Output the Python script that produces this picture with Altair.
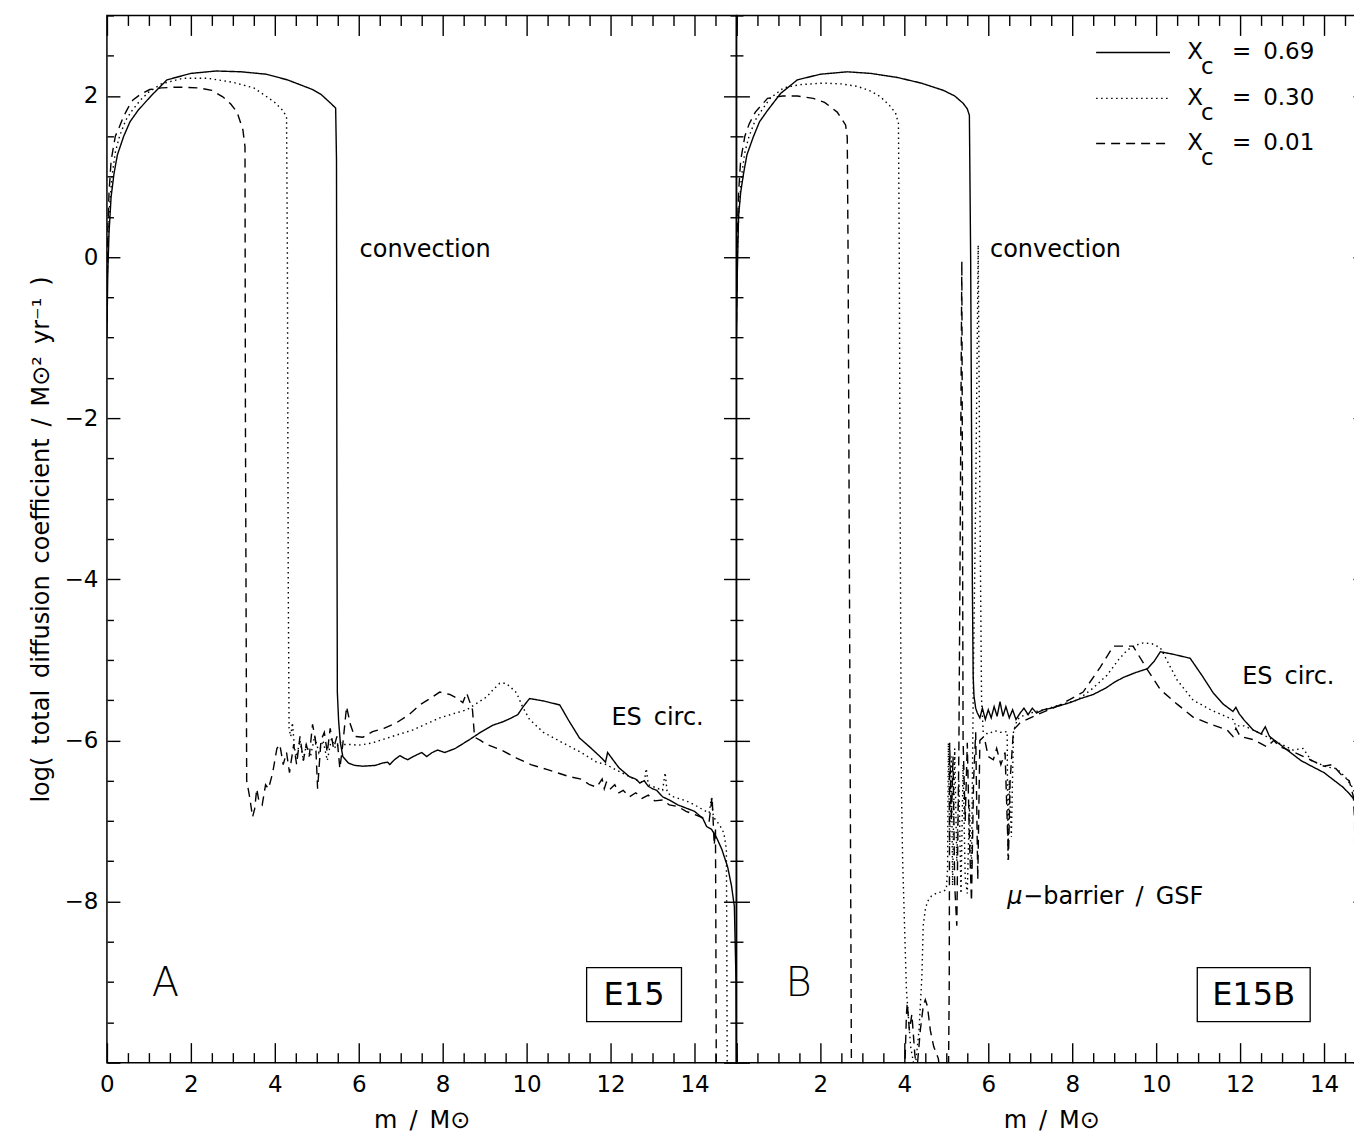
import altair as alt
import pandas as pd

FONT = "DejaVu Sans"
SERIES = ["0.69", "0.30", "0.01"]
DASHES = [[1, 0], [1.5, 3.5], [9, 6]]

# ---------------- Panel A (E15) ----------------
A_069 = [(0.0,-1.0),(0.02,-0.2),(0.05,0.3),(0.1,0.75),(0.17,1.04),(0.25,1.27),(0.4,1.5),(0.55,1.68),
         (0.74,1.82),(1.05,2.0),(1.43,2.2),(2.0,2.28),(2.6,2.31),(3.2,2.3),(3.8,2.27),(4.3,2.2),(4.6,2.14),
         (4.9,2.08),(5.1,2.02),(5.31,1.92),(5.45,1.85),(5.47,1.2),(5.48,-3.0),(5.49,-5.4),(5.52,-5.75),
         (5.56,-6.02),(5.62,-6.2),(5.75,-6.28),(5.9,-6.31),(6.1,-6.32),(6.4,-6.31),(6.57,-6.28),(6.69,-6.27),
         (6.74,-6.3),(6.85,-6.24),(6.98,-6.19),(7.08,-6.22),(7.17,-6.24),(7.3,-6.2),(7.5,-6.15),(7.62,-6.2),
         (7.75,-6.15),(7.88,-6.12),(8.05,-6.15),(8.3,-6.1),(8.64,-5.99),(8.9,-5.9),(9.2,-5.81),(9.43,-5.77),
         (9.6,-5.73),(9.79,-5.68),(9.92,-5.58),(10.07,-5.48),(10.4,-5.51),(10.79,-5.56),(11.0,-5.75),
         (11.26,-5.97),(11.5,-6.08),(11.75,-6.2),(11.88,-6.27),(11.93,-6.15),(12.0,-6.2),(12.2,-6.34),
         (12.45,-6.45),(12.6,-6.48),(12.7,-6.53),(12.8,-6.5),(12.9,-6.57),(13.0,-6.6),(13.1,-6.62),
         (13.24,-6.7),(13.4,-6.74),(13.6,-6.8),(13.8,-6.84),(14.0,-6.88),(14.2,-6.97),(14.29,-7.07),
         (14.4,-7.1),(14.52,-7.2),(14.65,-7.35),(14.79,-7.57),(14.88,-7.8),(14.95,-8.06),(14.99,-9.0),(15.0,-10.0)]

A_030 = [(0.0,-0.5),(0.03,0.2),(0.06,0.6),(0.12,1.0),(0.2,1.3),(0.3,1.5),(0.45,1.7),(0.6,1.82),(0.8,1.95),
         (1.0,2.05),(1.3,2.15),(1.81,2.22),(2.4,2.22),(3.0,2.17),(3.5,2.1),(3.81,1.99),(4.0,1.92),(4.19,1.82),
         (4.28,1.74),(4.3,0.0),(4.32,-4.0),(4.34,-5.85),(4.38,-5.95),(4.42,-5.78),(4.47,-6.1),(4.52,-6.2),
         (4.6,-6.0),(4.68,-6.25),(4.75,-6.05),(4.85,-6.2),(4.95,-5.95),(5.05,-6.15),(5.15,-6.0),(5.25,-6.25),
         (5.35,-5.98),(5.45,-6.1),(5.55,-6.02),(5.62,-6.05),(5.8,-6.05),(6.0,-6.06),(6.33,-6.03),(6.8,-5.95),
         (7.29,-5.87),(7.93,-5.72),(8.57,-5.62),(9.05,-5.46),(9.2,-5.37),(9.36,-5.29),(9.5,-5.29),(9.6,-5.33),
         (9.76,-5.41),(9.9,-5.58),(10.07,-5.74),(10.4,-5.9),(10.86,-6.03),(11.3,-6.15),(11.67,-6.27),
         (11.9,-6.3),(12.0,-6.33),(12.45,-6.45),(12.8,-6.53),(12.85,-6.35),(12.9,-6.55),(13.24,-6.62),
         (13.3,-6.4),(13.35,-6.65),(13.5,-6.7),(13.8,-6.75),(14.0,-6.8),(14.2,-6.86),(14.35,-6.9),(14.4,-6.72),
         (14.45,-6.95),(14.6,-7.05),(14.7,-7.15),(14.76,-7.35),(14.77,-8.5),(14.78,-10.2)]

A_001 = [(0.0,-0.8),(0.02,0.3),(0.05,0.8),(0.1,1.2),(0.2,1.5),(0.3,1.62),(0.4,1.75),(0.5,1.85),(0.62,1.95),
         (0.8,2.02),(1.02,2.08),(1.3,2.1),(1.67,2.11),(2.2,2.1),(2.5,2.07),(2.76,1.99),(2.95,1.9),(3.1,1.8),
         (3.24,1.58),(3.29,1.37),(3.3,-2.0),(3.33,-6.5),(3.4,-6.7),(3.47,-6.95),(3.52,-6.85),(3.57,-6.6),
         (3.62,-6.75),(3.7,-6.8),(3.78,-6.55),(3.85,-6.6),(3.95,-6.4),(4.05,-6.1),(4.12,-6.05),(4.2,-6.3),
         (4.28,-6.15),(4.35,-6.4),(4.45,-6.05),(4.52,-6.3),(4.6,-5.95),(4.68,-6.25),(4.75,-6.05),(4.82,-6.2),
         (4.9,-5.8),(4.97,-6.0),(5.02,-6.6),(5.1,-6.0),(5.18,-5.9),(5.25,-6.15),(5.32,-5.85),(5.4,-6.1),
         (5.48,-5.95),(5.55,-6.35),(5.62,-6.05),(5.71,-5.58),(5.8,-5.8),(5.9,-5.95),(6.1,-5.96),(6.33,-5.89),
         (6.6,-5.85),(6.9,-5.78),(7.2,-5.68),(7.45,-5.56),(7.7,-5.48),(7.93,-5.4),(8.17,-5.43),(8.35,-5.48),
         (8.48,-5.53),(8.57,-5.41),(8.71,-5.62),(8.76,-5.96),(8.9,-6.0),(9.05,-6.05),(9.4,-6.12),(9.76,-6.22),
         (10.1,-6.3),(10.48,-6.36),(11.02,-6.45),(11.3,-6.48),(11.5,-6.55),(11.67,-6.58),(11.8,-6.48),
         (11.85,-6.6),(11.9,-6.52),(12.0,-6.6),(12.1,-6.55),(12.2,-6.65),(12.3,-6.62),(12.45,-6.7),(12.6,-6.65),
         (12.75,-6.72),(12.9,-6.68),(13.05,-6.75),(13.24,-6.74),(13.4,-6.8),(13.6,-6.82),(13.8,-6.88),
         (14.0,-6.92),(14.2,-6.96),(14.35,-7.0),(14.42,-6.7),(14.47,-7.3),(14.5,-7.1),(14.51,-8.5),(14.52,-10.2)]

# ---------------- Panel B (E15B) ----------------
B_069 = [(0.0,-1.0),(0.02,-0.2),(0.05,0.5),(0.1,0.8),(0.17,1.04),(0.25,1.27),(0.4,1.49),(0.55,1.68),
         (0.74,1.82),(1.05,2.03),(1.45,2.2),(2.0,2.27),(2.64,2.3),(3.2,2.28),(3.83,2.23),(4.4,2.16),(4.93,2.07),
         (5.2,2.0),(5.4,1.91),(5.5,1.84),(5.55,1.76),(5.58,0.0),(5.62,-4.0),(5.64,-5.2),(5.66,-5.45),(5.7,-5.6),
         (5.74,-5.66),(5.8,-5.72),(5.86,-5.6),(5.93,-5.74),(6.0,-5.62),(6.07,-5.72),(6.14,-5.58),(6.21,-5.7),
         (6.28,-5.52),(6.35,-5.7),(6.42,-5.58),(6.5,-5.72),(6.58,-5.62),(6.66,-5.74),(6.76,-5.66),(6.85,-5.6),
         (6.95,-5.68),(7.05,-5.6),(7.15,-5.66),(7.31,-5.62),(7.5,-5.6),(7.7,-5.57),(7.95,-5.53),(8.2,-5.48),
         (8.5,-5.43),(8.8,-5.35),(9.0,-5.28),(9.21,-5.22),(9.5,-5.16),(9.79,-5.11),(9.95,-5.02),(10.1,-4.9),
         (10.4,-4.93),(10.81,-4.98),(11.1,-5.2),(11.36,-5.41),(11.6,-5.55),(11.83,-5.64),(11.9,-5.59),
         (11.98,-5.67),(12.1,-5.75),(12.31,-5.87),(12.5,-5.92),(12.6,-5.83),(12.7,-5.95),(12.95,-6.05),
         (13.2,-6.15),(13.45,-6.25),(13.74,-6.33),(14.0,-6.4),(14.2,-6.48),(14.45,-6.58),(14.6,-6.66),
         (14.7,-6.72),(14.8,-6.82),(14.88,-7.0),(14.95,-7.3),(15.0,-7.8)]

B_030 = [(0.0,-0.5),(0.03,0.2),(0.06,0.6),(0.12,1.0),(0.2,1.3),(0.3,1.5),(0.45,1.7),(0.6,1.82),(0.8,1.97),
         (1.12,2.1),(1.5,2.14),(2.07,2.16),(2.5,2.15),(2.88,2.12),(3.2,2.06),(3.43,1.99),(3.65,1.88),(3.79,1.79),
         (3.86,1.66),(3.88,0.0),(3.9,-3.0),(3.93,-6.6),(3.96,-7.5),(4.05,-9.1),(4.15,-9.8),(4.25,-10.1),
         (4.35,-9.6),(4.42,-8.9),(4.45,-8.3),(4.5,-8.1),(4.55,-8.0),(4.65,-7.93),(4.79,-7.89),(4.9,-7.88),
         (5.0,-7.85),(5.03,-7.6),(5.05,-6.03),(5.08,-7.3),(5.12,-6.2),(5.15,-7.8),(5.2,-6.1),(5.25,-7.5),
         (5.3,-6.5),(5.35,-7.9),(5.4,-6.3),(5.45,-7.7),(5.5,-7.9),(5.55,-6.8),(5.6,-7.6),(5.65,-5.0),(5.7,-3.0),
         (5.76,0.15),(5.8,-3.0),(5.84,-5.5),(5.88,-5.9),(6.0,-5.92),(6.15,-5.88),(6.3,-5.9),(6.45,-5.89),
         (6.47,-7.48),(6.5,-6.5),(6.55,-7.2),(6.6,-5.9),(6.69,-5.74),(6.8,-5.7),(7.0,-5.66),(7.31,-5.62),
         (7.7,-5.56),(8.12,-5.5),(8.5,-5.35),(8.83,-5.19),(9.1,-5.0),(9.31,-4.88),(9.5,-4.82),(9.69,-4.79),
         (9.9,-4.8),(10.1,-4.85),(10.3,-5.05),(10.5,-5.25),(10.88,-5.5),(11.3,-5.62),(11.69,-5.71),
         (11.83,-5.74),(11.9,-5.82),(12.1,-5.82),(12.48,-5.91),(12.8,-6.0),(13.26,-6.12),(13.5,-6.1),
         (13.7,-6.25),(14.07,-6.33),(14.3,-6.35),(14.5,-6.45),(14.7,-6.6),(14.82,-6.9),(14.85,-7.2),
         (14.86,-8.5),(14.87,-10.2)]

B_001 = [(0.0,-0.8),(0.02,0.3),(0.05,0.8),(0.1,1.2),(0.2,1.5),(0.3,1.65),(0.45,1.8),(0.74,1.97),(1.1,2.0),
         (1.45,2.0),(1.83,1.97),(2.1,1.92),(2.4,1.8),(2.6,1.64),(2.64,1.49),(2.66,0.0),(2.7,-5.0),(2.74,-10.2),
         (3.5,-12.0),(4.0,-10.3),(4.05,-9.4),(4.07,-9.26),(4.12,-9.6),(4.18,-9.4),(4.25,-9.9),(4.3,-10.1),
         (4.38,-9.6),(4.45,-9.3),(4.5,-9.22),(4.55,-9.3),(4.62,-9.6),(4.7,-9.8),(4.81,-9.95),(4.9,-10.3),
         (5.05,-10.3),(5.07,-9.0),(5.08,-6.03),(5.12,-7.0),(5.16,-6.2),(5.2,-7.8),(5.25,-8.3),(5.3,-6.1),
         (5.37,-0.05),(5.4,-6.0),(5.45,-7.0),(5.5,-6.03),(5.55,-7.2),(5.6,-8.0),(5.65,-6.5),(5.7,-5.9),
         (5.75,-7.73),(5.8,-6.0),(5.9,-5.95),(6.0,-6.2),(6.12,-6.24),(6.2,-6.1),(6.3,-6.3),(6.4,-6.15),
         (6.48,-7.48),(6.52,-6.5),(6.6,-5.87),(6.76,-5.78),(7.17,-5.68),(7.71,-5.56),(8.26,-5.4),(8.67,-5.09),
         (8.98,-4.83),(9.45,-4.83),(9.79,-5.12),(10.1,-5.37),(10.5,-5.55),(10.88,-5.71),(11.3,-5.8),
         (11.69,-5.87),(11.83,-5.95),(11.9,-5.85),(12.0,-5.95),(12.31,-5.99),(12.64,-6.08),(12.8,-6.0),
         (12.95,-6.08),(13.3,-6.15),(13.67,-6.24),(14.0,-6.32),(14.2,-6.3),(14.45,-6.45),(14.6,-6.5),
         (14.7,-6.7),(14.73,-7.0),(14.74,-10.2)]

# Annotations (data coordinates)
ANN_A_TEXT = ["convection", "ES\u2002circ."]
ANN_A_X = [6.02, 12.02]
ANN_A_Y = [0.09, -5.72]
ANN_B_TEXT = ["convection", "ES\u2002circ.", "\u2212barrier\u2002/\u2002GSF"]
ANN_B_X = [6.04, 12.05, 6.83]
ANN_B_Y = [0.09, -5.21, -7.94]
MU_TEXT, MU_X, MU_Y = "\u03bc", 6.45, -7.94
PANEL_LETTER = ["A", "B"]
LETTER_X = [1.07, 1.17]
LETTER_Y = -9.03
BOX_TEXT = ["E15", "E15B"]
BOX_X1 = [11.43, 10.98]
BOX_X2 = [13.69, 13.67]
BOX_Y1 = -9.49
BOX_Y2 = -8.82

# Legend (panel B, data coordinates)
LEG_Y = [2.54, 1.97, 1.41]
LEG_X1, LEG_X2 = 8.57, 10.33
LEG_XX, LEG_CX, LEG_EQX, LEG_VX = 10.74, 11.07, 11.81, 12.55

MAJOR_X = [0, 2, 4, 6, 8, 10, 12, 14]
MINOR_X = [k * 0.5 for k in range(31) if k % 4 != 0]
MAJOR_Y = [-10, -8, -6, -4, -2, 0, 2]
MINOR_Y = [-10 + k * 0.5 for k in range(27) if k % 4 != 0]

W, H = 630, 1048
XS = alt.Scale(domain=[0, 15], nice=False, zero=False)
YS = alt.Scale(domain=[-10, 3], nice=False, zero=False)
DASH_SCALE = alt.Scale(domain=SERIES, range=DASHES)


def to_df(series):
    rows = []
    for name, pts in series:
        for i, (m, d) in enumerate(pts):
            rows.append({"m": m, "logD": d, "series": name, "idx": i})
    return pd.DataFrame(rows)


def tick_axis(orient, values, size):
    return alt.Axis(orient=orient, values=values, labels=False, ticks=True,
                    tickSize={"expr": str(-size)}, tickColor="black", tickWidth=1.4,
                    domain=False, grid=False, title=None)


def text_layer(df, align="left", size=24, **kw):
    return alt.Chart(df).mark_text(align=align, baseline="middle", font=FONT,
                                   fontSize=size, color="black", **kw).encode(
        x=alt.X("x:Q", scale=XS, axis=None), y=alt.Y("y:Q", scale=YS, axis=None), text="t:N")


def make_panel(df, x_label_values, y_labels, ann_text, ann_x, ann_y, letter, lx,
               box_text, bx1, bx2, legend=False):
    xlab = alt.Axis(orient="bottom", values=x_label_values, ticks=False, domain=False, grid=False,
                    labelFont=FONT, labelFontSize=23, labelColor="black", labelPadding=11,
                    labelFlush=False, labelOverlap=False,
                    title="m\u2002/\u2002M\u2299", titleFont=FONT, titleFontSize=24,
                    titleFontWeight="normal", titleColor="black", titlePadding=12)
    if y_labels:
        ylab = alt.Axis(orient="left", values=MAJOR_Y[1:], ticks=False, domain=False, grid=False,
                        labelFont=FONT, labelFontSize=23, labelColor="black", labelPadding=9,
                        labelFlush=False, labelOverlap=False,
                        title="log(\u2002total\u2002diffusion\u2002coefficient\u2002/\u2002M\u2299\u00b2\u2002yr\u207b\u00b9\u2002)",
                        titleFont=FONT, titleFontSize=24, titleFontWeight="normal",
                        titleColor="black", titlePadding=11)
    else:
        ylab = None

    lines = alt.Chart(df).mark_line(clip=True, color="black", strokeWidth=1.4).encode(
        x=alt.X("m:Q", scale=XS, axis=xlab),
        y=alt.Y("logD:Q", scale=YS, axis=ylab),
        strokeDash=alt.StrokeDash("series:N", scale=DASH_SCALE, legend=None),
        order="idx:Q",
    )

    carrier = alt.Chart(df).transform_filter("datum.logD >= -10 && datum.logD <= 3")

    def axis_layer(xa, ya):
        return carrier.mark_point(opacity=0, size=1).encode(
            x=alt.X("m:Q", scale=XS, axis=xa),
            y=alt.Y("logD:Q", scale=YS, axis=ya),
        )

    layers = [
        lines,
        axis_layer(tick_axis("bottom", MAJOR_X + [15], 20), tick_axis("left", MAJOR_Y, 13)),
        axis_layer(tick_axis("bottom", MINOR_X, 10), tick_axis("left", MINOR_Y, 6.5)),
        axis_layer(tick_axis("top", MAJOR_X + [15], 20), tick_axis("right", MAJOR_Y, 13)),
        axis_layer(tick_axis("top", MINOR_X, 10), tick_axis("right", MINOR_Y, 6.5)),
    ]

    layers.append(text_layer(pd.DataFrame({"t": ann_text, "x": ann_x, "y": ann_y})))
    if legend:
        layers.append(text_layer(pd.DataFrame({"t": [MU_TEXT], "x": [MU_X], "y": [MU_Y]}),
                                 fontStyle="italic"))

    layers.append(text_layer(pd.DataFrame({"t": [letter], "x": [lx], "y": [LETTER_Y]}),
                             size=40, fontWeight=300))

    box = pd.DataFrame({"t": [box_text], "x1": [bx1], "x2": [bx2], "y1": [BOX_Y1], "y2": [BOX_Y2],
                        "x": [(bx1 + bx2) / 2], "y": [(BOX_Y1 + BOX_Y2) / 2]})
    layers.append(alt.Chart(box).mark_rect(fillOpacity=0, stroke="black", strokeWidth=1.3).encode(
        x=alt.X("x1:Q", scale=XS, axis=None), x2="x2:Q",
        y=alt.Y("y1:Q", scale=YS, axis=None), y2="y2:Q"))
    layers.append(text_layer(box, align="center", size=32))

    if legend:
        leg = pd.DataFrame({"series": SERIES, "y": LEG_Y, "x1": [LEG_X1] * 3, "x2": [LEG_X2] * 3,
                            "xx": [LEG_XX] * 3, "cx": [LEG_CX] * 3, "cy": [v - 0.18 for v in LEG_Y],
                            "eqx": [LEG_EQX] * 3, "vx": [LEG_VX] * 3,
                            "X": ["X"] * 3, "c": ["c"] * 3, "eq": ["="] * 3})
        base = alt.Chart(leg)
        layers.append(base.mark_rule(color="black", strokeWidth=1.4).encode(
            x=alt.X("x1:Q", scale=XS, axis=None), x2="x2:Q",
            y=alt.Y("y:Q", scale=YS, axis=None),
            strokeDash=alt.StrokeDash("series:N", scale=DASH_SCALE, legend=None)))
        for xf, yf, tf in [("xx", "y", "X"), ("cx", "cy", "c"), ("eqx", "y", "eq"), ("vx", "y", "series")]:
            layers.append(base.mark_text(align="left", baseline="middle", font=FONT,
                                         fontSize=23, color="black").encode(
                x=alt.X(f"{xf}:Q", scale=XS, axis=None), y=alt.Y(f"{yf}:Q", scale=YS, axis=None),
                text=f"{tf}:N"))

    return alt.layer(*layers).resolve_axis(x="independent", y="independent").properties(
        width=W, height=H)


dfA = to_df([("0.69", A_069), ("0.30", A_030), ("0.01", A_001)])
dfB = to_df([("0.69", B_069), ("0.30", B_030), ("0.01", B_001)])

panelA = make_panel(dfA, MAJOR_X, True, ANN_A_TEXT, ANN_A_X, ANN_A_Y, PANEL_LETTER[0], LETTER_X[0],
                    BOX_TEXT[0], BOX_X1[0], BOX_X2[0])
panelB = make_panel(dfB, MAJOR_X[1:], False, ANN_B_TEXT, ANN_B_X, ANN_B_Y, PANEL_LETTER[1], LETTER_X[1],
                    BOX_TEXT[1], BOX_X1[1], BOX_X2[1], legend=True)

chart = alt.hconcat(panelA, panelB, spacing=0, bounds="flush").properties(
    padding={"left": 20, "top": 5, "right": -14, "bottom": 0}, background="white"
).configure_view(stroke="black", strokeWidth=1.5).configure_axis(grid=False)

chart.save("out.html", embed_options={"renderer": "svg", "actions": False})
